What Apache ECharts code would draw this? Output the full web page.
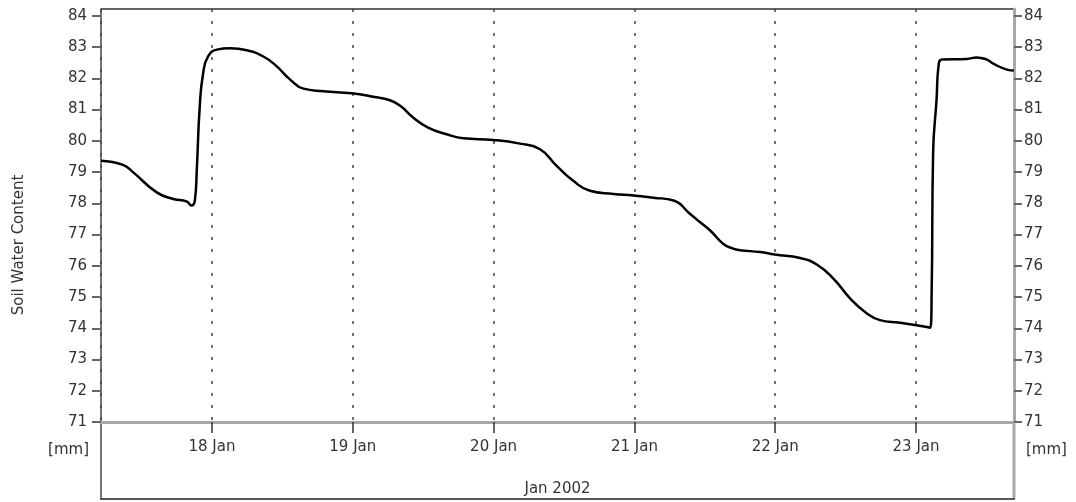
<!DOCTYPE html>
<html>
<head>
<meta charset="utf-8">
<script src="https://cdn.jsdelivr.net/npm/echarts@6/dist/echarts.min.js"></script>
<style>
html, body { margin: 0; padding: 0; background: #fff; }
#chart { width: 1076px; height: 502px; }
</style>
</head>
<body>
<div id="chart"></div>
<script>
var dom = document.getElementById("chart");
var myChart = echarts.init(dom);

// soil water content readings, Jan 2002
var times = [
 '2002-01-17 05:05', '2002-01-17 08:50', '2002-01-17 10:35', '2002-01-17 14:35',
 '2002-01-17 17:25', '2002-01-17 19:40', '2002-01-17 20:30', '2002-01-17 21:05',
 '2002-01-17 21:25', '2002-01-17 21:55', '2002-01-17 22:30', '2002-01-17 23:20',
 '2002-01-18 00:50', '2002-01-18 03:05', '2002-01-18 05:55', '2002-01-18 08:45',
 '2002-01-18 11:00', '2002-01-18 13:20', '2002-01-18 15:35', '2002-01-18 19:00',
 '2002-01-18 23:50', '2002-01-19 03:30', '2002-01-19 06:20', '2002-01-19 08:05',
 '2002-01-19 10:20', '2002-01-19 12:50', '2002-01-19 16:00', '2002-01-19 18:50',
 '2002-01-19 23:55', '2002-01-20 04:30', '2002-01-20 07:55', '2002-01-20 10:45',
 '2002-01-20 13:35', '2002-01-20 16:25', '2002-01-20 20:25', '2002-01-20 23:50',
 '2002-01-21 03:15', '2002-01-21 06:40', '2002-01-21 09:30', '2002-01-21 11:10',
 '2002-01-21 12:55', '2002-01-21 15:10', '2002-01-21 16:50', '2002-01-21 18:00',
 '2002-01-21 21:25', '2002-01-21 23:55', '2002-01-22 04:15', '2002-01-22 07:05',
 '2002-01-22 09:55', '2002-01-22 12:45', '2002-01-22 15:35', '2002-01-22 17:50',
 '2002-01-22 21:15', '2002-01-23 00:05', '2002-01-23 02:25', '2002-01-23 02:40',
 '2002-01-23 02:55', '2002-01-23 03:30', '2002-01-23 03:50', '2002-01-23 04:25',
 '2002-01-23 08:40', '2002-01-23 10:20', '2002-01-23 12:05', '2002-01-23 13:10',
 '2002-01-23 15:30', '2002-01-23 16:40'
];
var values = [
 79.36, 79.23, 78.99, 78.35,
 78.14, 78.06, 77.93, 78.09,
 79.10, 81.11, 82.17, 82.70,
 82.92, 82.96, 82.90, 82.70,
 82.39, 81.96, 81.67, 81.59,
 81.52, 81.41, 81.30, 81.12,
 80.74, 80.42, 80.21, 80.08,
 80.03, 79.91, 79.73, 79.20,
 78.72, 78.40, 78.30, 78.25,
 78.18, 78.09, 77.66, 77.40,
 77.13, 76.70, 76.55, 76.50,
 76.44, 76.36, 76.25, 76.04,
 75.59, 74.96, 74.48, 74.26,
 74.18, 74.10, 74.02, 75.17,
 79.63, 81.32, 82.39, 82.60,
 82.62, 82.67, 82.60, 82.47,
 82.28, 82.25
];
var yTicks = [71, 72, 73, 74, 75, 76, 77, 78, 79, 80, 81, 82, 83, 84];
var months = ['Jan', 'Feb', 'Mar', 'Apr', 'May', 'Jun', 'Jul', 'Aug', 'Sep', 'Oct', 'Nov', 'Dec'];

var data = [];
for (var i = 0; i < times.length; i++) {
	data.push([times[i], values[i]]);
}

var font = 'DejaVu Sans';
var txt = '#333';

option = {
	animation: false,
	grid: { left: 101, right: 62, top: 9, bottom: 78 },
	xAxis: {
		type: 'time',
		min: '2002-01-17 05:05',
		max: '2002-01-23 16:42',
		minInterval: 86400000,
		maxInterval: 86400000,
		name: 'Jan 2002',
		nameLocation: 'middle',
		nameGap: 60,
		nameTextStyle: { fontFamily: font, fontSize: 15, color: txt },
		axisLine: { lineStyle: { color: '#a8a8a8', width: 3 } },
		axisTick: { show: true, length: 11, lineStyle: { color: '#333', width: 1.5 } },
		axisLabel: {
			margin: 18,
			fontFamily: font, fontSize: 15, color: txt,
			formatter: function (v) {
				var d = new Date(v);
				return d.getDate() + ' ' + months[d.getMonth()];
			}
		},
		splitLine: { show: true, lineStyle: { color: '#444', type: [3, 9], width: 1.5 } }
	},
	yAxis: [
		{
			type: 'value', min: 71, max: 84.22, interval: 1, position: 'left',
			axisLine: { show: true, lineStyle: { color: '#444', width: 1.5 } },
			axisTick: { show: true, length: 9, customValues: yTicks, lineStyle: { color: '#666', width: 2 } },
			axisLabel: { customValues: yTicks, margin: 14, fontFamily: font, fontSize: 15, color: txt },
			splitLine: { show: false }
		},
		{
			type: 'value', min: 71, max: 84.22, interval: 1, position: 'right',
			axisLine: { show: true, lineStyle: { color: '#a8a8a8', width: 3 } },
			axisTick: { show: true, length: 8, customValues: yTicks, lineStyle: { color: '#666', width: 2 } },
			axisLabel: { customValues: yTicks, margin: 10, fontFamily: font, fontSize: 15, color: txt },
			splitLine: { show: false }
		}
	],
	series: [
		{
			type: 'line',
			xAxisIndex: 0,
			yAxisIndex: 0,
			data: data,
			showSymbol: false,
			smooth: 0.5,
			lineStyle: { color: '#000', width: 2.5 }
		}
	],
	graphic: [
		{ type: 'line', shape: { x1: 101, y1: 9, x2: 1014, y2: 9 }, style: { stroke: '#333', lineWidth: 1.5 } },
		{ type: 'line', shape: { x1: 101, y1: 424, x2: 101, y2: 499 }, style: { stroke: '#444', lineWidth: 1.5 } },
		{ type: 'line', shape: { x1: 1014, y1: 424, x2: 1014, y2: 499 }, style: { stroke: '#a8a8a8', lineWidth: 3 } },
		{ type: 'line', shape: { x1: 100, y1: 499, x2: 1015, y2: 499 }, style: { stroke: '#555', lineWidth: 2 } },
		{ type: 'text', x: 89, y: 450, style: { text: '[mm]', font: '15px "DejaVu Sans"', fill: txt, textAlign: 'right', textVerticalAlign: 'middle' } },
		{ type: 'text', x: 1026, y: 450, style: { text: '[mm]', font: '15px "DejaVu Sans"', fill: txt, textAlign: 'left', textVerticalAlign: 'middle' } },
		{ type: 'text', x: 19, y: 245, rotation: Math.PI / 2, style: { text: 'Soil Water Content', font: '15px "DejaVu Sans"', fill: txt, textAlign: 'center', textVerticalAlign: 'middle' } }
	]
};

myChart.setOption(option);
</script>
</body>
</html>
